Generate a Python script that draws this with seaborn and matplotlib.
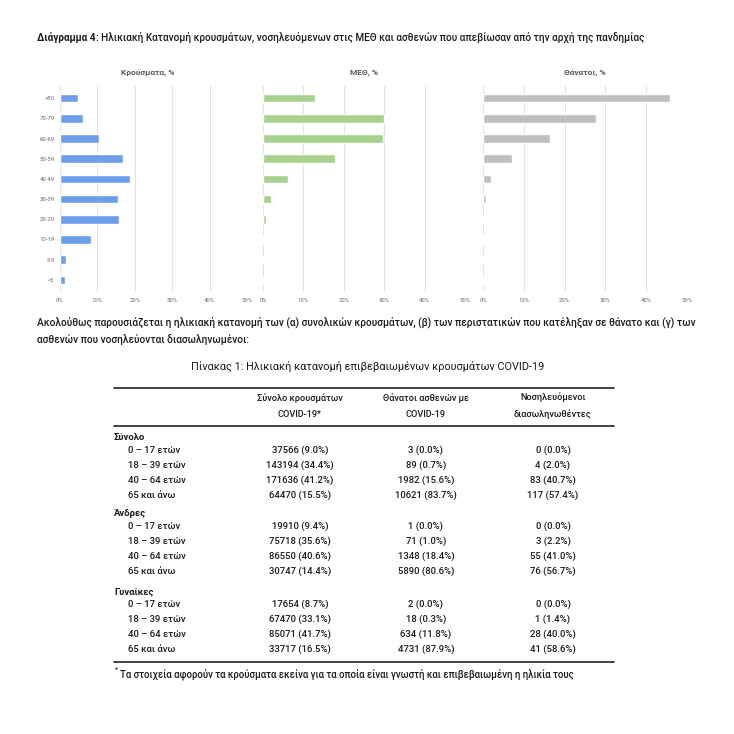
import matplotlib
matplotlib.use("Agg")
import matplotlib.pyplot as plt
import seaborn as sns

# --- chart data ---
age_groups = ['>80', '70-79', '60-69', '50-59', '40-49', '30-39', '20-29', '10-19', '5-9', '<5']
cases_pct = [4.7, 6.2, 10.5, 16.9, 18.7, 15.6, 15.7, 8.4, 1.7, 1.3]
icu_pct = [12.9, 30.0, 29.8, 17.7, 6.3, 2.0, 0.7, 0.2, 0.1, 0.1]
deaths_pct = [45.9, 27.6, 16.5, 7.1, 2.0, 0.7, 0.15, 0.05, 0.0, 0.05]
panel_titles = ['Κρούσματα, %', 'ΜΕΘ, %', 'Θάνατοι, %']
panel_colors = ['#6d9eeb', '#a9d18e', '#bfbfbf']
x_ticks = [0, 10, 20, 30, 40, 50]

# --- table data ---
col_headers = ['Σύνολο κρουσμάτων\nCOVID-19*', 'Θάνατοι ασθενών με\nCOVID-19', 'Νοσηλευόμενοι\nδιασωληνωθέντες']
groups = ['Σύνολο', 'Άνδρες', 'Γυναίκες']
row_labels = ['0 – 17 ετών', '18 – 39 ετών', '40 – 64 ετών', '65 και άνω']
total_cases = ['37566 (9.0%)', '143194 (34.4%)', '171636 (41.2%)', '64470 (15.5%)']
total_deaths = ['3 (0.0%)', '89 (0.7%)', '1982 (15.6%)', '10621 (83.7%)']
total_icu = ['0 (0.0%)', '4 (2.0%)', '83 (40.7%)', '117 (57.4%)']
men_cases = ['19910 (9.4%)', '75718 (35.6%)', '86550 (40.6%)', '30747 (14.4%)']
men_deaths = ['1 (0.0%)', '71 (1.0%)', '1348 (18.4%)', '5890 (80.6%)']
men_icu = ['0 (0.0%)', '3 (2.2%)', '55 (41.0%)', '76 (56.7%)']
women_cases = ['17654 (8.7%)', '67470 (33.1%)', '85071 (41.7%)', '33717 (16.5%)']
women_deaths = ['2 (0.0%)', '18 (0.3%)', '634 (11.8%)', '4731 (87.9%)']
women_icu = ['0 (0.0%)', '1 (1.4%)', '28 (40.0%)', '41 (58.6%)']

sns.set_style('white')
plt.rcParams['font.family'] = ['Roboto', 'DejaVu Sans']

W = 734
fig = plt.figure(figsize=(7.34, 7.34), dpi=100)
fig.patch.set_facecolor('white')

# page overlay axes in pixel coordinates
page = fig.add_axes([0, 0, 1, 1])
page.set_xlim(0, W)
page.set_ylim(W, 0)
page.axis('off')

txt = '#1a1a1a'
body_w = 'medium'
t1 = page.text(37, 41, 'Διάγραμμα 4', fontsize=7.2, fontweight='bold', color=txt, va='baseline')
page.annotate(': Ηλικιακή Κατανομή κρουσμάτων, νοσηλευόμενων στις ΜΕΘ και ασθενών που απεβίωσαν από την αρχή της πανδημίας',
              xy=(1, 0), xycoords=t1, va='bottom', fontsize=7.2, color=txt, fontweight=body_w)

# --- three bar panels ---
panels = [(60, 247), (263, 465), (483, 687)]
top_px, bot_px = 86, 292
for i, (vals, (x0, x1)) in enumerate(zip([cases_pct, icu_pct, deaths_pct], panels)):
    ax = fig.add_axes([x0 / W, 1 - bot_px / W, (x1 - x0) / W, (bot_px - top_px) / W])
    sns.barplot(x=vals, y=age_groups, orient='h', color=panel_colors[i], width=0.42,
                ax=ax, saturation=1)
    ax.set_xlim(0, 50)
    ax.set_ylim(9.6, -0.6)
    ax.set_xticks(x_ticks)
    ax.set_xticklabels([f'{t}%' for t in x_ticks], fontsize=4.3, color='#6b6b6b')
    ax.grid(axis='x', color='#e3e3e3', linewidth=0.8)
    ax.set_axisbelow(True)
    for s in ax.spines.values():
        s.set_visible(False)
    ax.tick_params(length=0, pad=4)
    ax.set_xlabel('')
    ax.set_ylabel('')
    if i == 0:
        ax.set_yticklabels(age_groups, fontsize=4.3, color='#6b6b6b')
    else:
        ax.set_yticklabels([])
    page.text((x0 + x1) / 2 - (6 if i == 0 else 0), 73, panel_titles[i], fontsize=6,
              fontweight='bold', color='#595959', ha='center', va='center')

# --- paragraph ---
page.text(37, 325, 'Ακολούθως παρουσιάζεται η ηλικιακή κατανομή των (α) συνολικών κρουσμάτων, (β) των περιστατικών που κατέληξαν σε θάνατο και (γ) των',
          fontsize=7.3, color=txt, va='baseline', fontweight=body_w)
page.text(37, 343, 'ασθενών που νοσηλεύονται διασωληνωμένοι:', fontsize=7.3, color=txt, va='baseline',
          fontweight=body_w)
page.text(368, 370, 'Πίνακας 1: Ηλικιακή κατανομή επιβεβαιωμένων κρουσμάτων COVID-19',
          fontsize=7.8, color=txt, ha='center', va='baseline')

# --- table ---
tx0, tx1 = 114, 614
col_x = [300, 426, 553]
page.plot([tx0, tx1], [388, 388], color='#333333', lw=1.3)
page.plot([tx0, tx1], [426, 426], color='#333333', lw=1.3)
for cx, h in zip(col_x, col_headers):
    page.text(cx, 406, h, fontsize=6.6, color=txt, ha='center', va='center', linespacing=1.9,
              fontweight=body_w)

blocks = [(total_cases, total_deaths, total_icu),
          (men_cases, men_deaths, men_icu),
          (women_cases, women_deaths, women_icu)]
group_y = [440, 516, 594]
for g, gy, cols in zip(groups, group_y, blocks):
    page.text(tx0, gy, g, fontsize=6.8, fontweight='bold', color=txt, va='baseline')
    for r, lab in enumerate(row_labels):
        ry = gy + 13 + r * 15
        page.text(128, ry, lab, fontsize=6.8, color=txt, va='baseline', fontweight=body_w)
        for cx, col in zip(col_x, cols):
            page.text(cx, ry, col[r], fontsize=6.8, color=txt, ha='center', va='baseline',
                      fontweight=body_w)

page.plot([tx0, tx1], [662, 662], color='#333333', lw=1.3)
page.text(115, 672, '*', fontsize=5, color=txt, va='baseline')
page.text(120, 677, 'Τα στοιχεία αφορούν τα κρούσματα εκείνα για τα οποία είναι γνωστή και επιβεβαιωμένη η ηλικία τους',
          fontsize=6.9, color=txt, va='baseline', fontweight=body_w)

fig.savefig('out.png', dpi=100, facecolor='white')
